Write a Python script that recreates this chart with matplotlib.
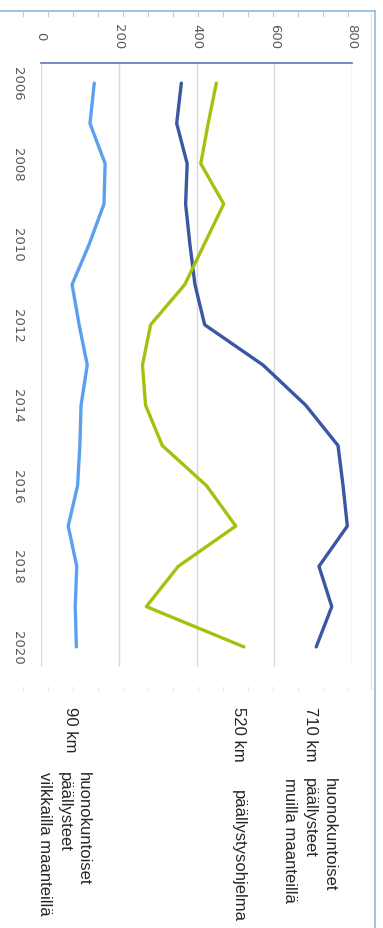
import matplotlib.pyplot as plt
from matplotlib.lines import Line2D

years = list(range(2006, 2021))
muilla = [361, 349, 376, 372, 383, 396, 421, 571, 681, 764, 777, 788, 715, 748, 708]
ohjelma = [451, 430, 411, 470, 420, 370, 282, 261, 269, 312, 426, 501, 353, 271, 522]
vilkkailla = [137, 126, 165, 162, 124, 80, 98, 119, 103, 100, 94, 70, 92, 88, 91]

year_ticks = [2006, 2008, 2010, 2012, 2014, 2016, 2018, 2020]
value_ticks = [0, 200, 400, 600, 800]

end_labels = ["710 km", "520 km", "90 km"]
descriptions = [
    "huonokuntoiset\npäällysteet\nmuilla maanteillä",
    "päällystysohjelma",
    "huonokuntoiset\npäällysteet\nvilkkailla maanteillä",
]
colors = ["#3a56a5", "#a9bf0f", "#5b9ff0"]

W, H = 383, 929
fig = plt.figure(figsize=(W / 100, H / 100), dpi=100)
ax = fig.add_axes([41 / W, 1 - 668 / H, (352 - 41) / W, (668 - 64) / H])

# chart is drawn turned a quarter clockwise: values run left->right, years top->bottom
for series, color in zip([muilla, ohjelma, vilkkailla], colors):
    ax.plot(series, years, color=color, linewidth=2.4, solid_capstyle="round")

ax.set_xlim(0, 800)
ax.set_ylim(2020.5, 2005.5)
ax.set_xticks(value_ticks)
ax.set_yticks(year_ticks)
ax.xaxis.tick_top()
ax.grid(axis="x", color="#d9d9d9", linewidth=1)
ax.set_axisbelow(True)
for side in ["left", "right", "bottom"]:
    ax.spines[side].set_visible(False)
ax.spines["top"].set_color("#5a78b8")
ax.spines["top"].set_linewidth(1.2)
ax.tick_params(axis="both", length=0, colors="#595959", labelsize=9.5)
ax.tick_params(axis="x", pad=20)
ax.tick_params(axis="y", pad=12)
for lab in ax.get_xticklabels():
    lab.set_rotation(-90)
    lab.set_ha("center")
    lab.set_va("center")
for lab in ax.get_yticklabels():
    lab.set_rotation(-90)
    lab.set_ha("right")
    lab.set_va("center")

label_font = {"family": ["Liberation Sans", "DejaVu Sans"], "size": 12, "color": "#262626"}
last_values = [muilla[-1], ohjelma[-1], vilkkailla[-1]]
desc_top = [-0.182, -0.202, -0.172]
desc_shift = [-18, -15, -32]
for value, km, desc, top, shift in zip(last_values, end_labels, descriptions, desc_top, desc_shift):
    ax.text(value - 15, -0.064, km, transform=ax.get_xaxis_transform(), rotation=-90,
            ha="center", va="top", clip_on=False, **label_font)
    ax.text(value + shift, top, desc, transform=ax.get_xaxis_transform(), rotation=-90,
            ha="center", va="top", multialignment="left", linespacing=1.4,
            clip_on=False, **label_font)

# frame of the original screenshot
fig.add_artist(Line2D([0, 375 / W], [1 - 12 / H, 1 - 12 / H], color="#8fb8de", linewidth=1.2))
fig.add_artist(Line2D([375 / W, 375 / W], [0, 1 - 12 / H], color="#8fb8de", linewidth=1.2))
fig.add_artist(Line2D([371 / W, 371 / W], [1 - 690 / H, 1 - 14 / H], color="#e4e4e4", linewidth=1))
for px in range(23, 372, 25):
    fig.add_artist(Line2D([px / W, px / W], [1 - 13 / H, 1 - 17 / H], color="#c8c8c8", linewidth=0.8))
    fig.add_artist(Line2D([px / W, px / W], [1 - 688 / H, 1 - 691 / H], color="#e6e6e6", linewidth=0.8))

fig.savefig("out.png", dpi=100)
